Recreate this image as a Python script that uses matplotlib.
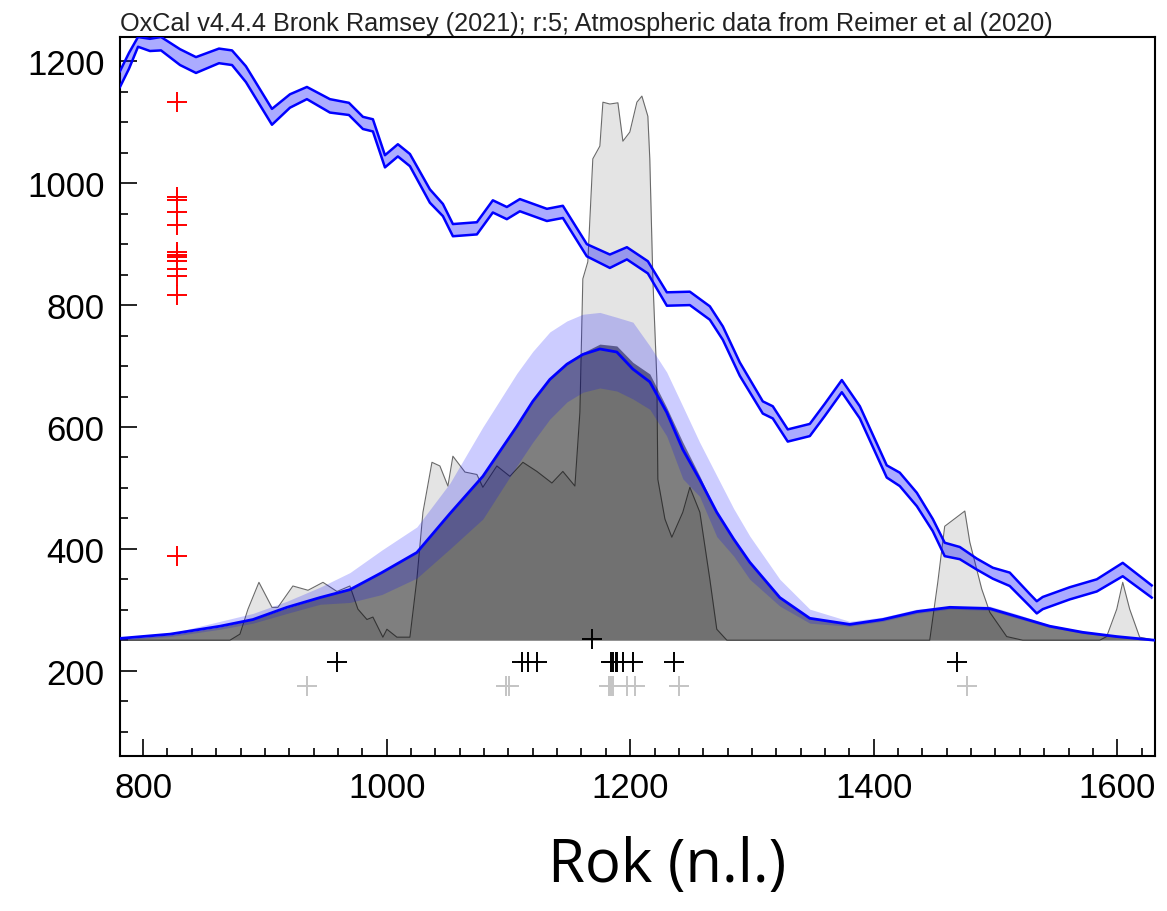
import matplotlib
matplotlib.use('Agg')
import matplotlib.pyplot as plt
from matplotlib.ticker import MultipleLocator
import numpy as np

# ---------------- data ----------------
# calibration curve (calendar year AD, radiocarbon age BP, 1 sigma)
cal_year = [781.0, 788.4, 795.8, 805.6, 814.7, 830.3, 843.4, 862.3, 873.0, 884.4,
            905.8, 920.6, 934.5, 953.4, 969.0, 980.5, 988.7, 998.6, 1009.2, 1019.1,
            1035.5, 1046.2, 1054.4, 1074.1, 1087.2, 1098.7, 1109.4, 1131.6, 1144.7, 1164.4,
            1183.3, 1197.3, 1214.5, 1230.1, 1249.0, 1265.4, 1276.1, 1290.0, 1308.9, 1317.1,
            1329.4, 1347.5, 1359.8, 1373.8, 1388.6, 1400.9, 1410.7, 1421.4, 1435.4, 1448.5,
            1458.3, 1470.7, 1484.6, 1497.8, 1511.7, 1528.1, 1533.9, 1538.8, 1561.0, 1583.2,
            1604.5, 1628.3]
cal_bp = [1171, 1201, 1232, 1227, 1229, 1207, 1194, 1209, 1206, 1179,
          1109, 1135, 1148, 1127, 1122, 1099, 1095, 1036, 1054, 1038,
          979, 956, 923, 926, 962, 951, 964, 948, 953, 890,
          872, 885, 862, 810, 811, 787, 754, 695, 632, 624,
          586, 595, 628, 667, 624, 570, 527, 514, 481, 439,
          399, 393, 375, 360, 350, 316, 304, 311, 327, 340,
          366, 330]
cal_sigma = [13, 13, 8, 10, 11, 13, 13, 12, 12, 13,
             13, 11, 10, 11, 10, 10, 10, 10, 10, 10,
             11, 10, 10, 10, 10, 10, 10, 10, 10, 10,
             11, 10, 10, 11, 11, 11, 11, 11, 10, 10,
             10, 10, 10, 10, 10, 10, 10, 11, 11, 10,
             11, 10, 9, 9, 11, 10, 10, 10, 10, 10,
             11, 10]

# summed (unmodelled) distribution, light grey, drawn on top of baseline 250
hist_year = [781.0, 871.3, 879.5, 886.1, 895.1, 905.8, 910.7, 923.0, 935.4, 947.7,
             959.2, 969.8, 976.4, 983.8, 988.7, 996.9, 1000.2, 1008.4, 1019.1, 1024.8,
             1029.8, 1037.2, 1043.7, 1050.3, 1054.4, 1064.3, 1074.1, 1079.0, 1090.5, 1101.2,
             1111.9, 1123.4, 1135.7, 1144.7, 1154.6, 1158.7, 1161.1, 1165.2, 1169.3, 1175.1,
             1177.6, 1183.3, 1189.9, 1194.0, 1199.7, 1205.5, 1209.6, 1214.5, 1216.1, 1218.6,
             1221.9, 1222.7, 1228.5, 1234.2, 1243.2, 1249.0, 1257.2, 1265.4, 1271.1, 1279.4,
             1446.0, 1452.6, 1458.3, 1474.8, 1478.9, 1488.7, 1495.3, 1509.2, 1522.4, 1585.6,
             1591.3, 1599.6, 1604.5, 1610.2, 1618.4, 1630.8]
hist_val = [250, 250, 260, 301, 345, 304, 304, 339, 332, 345,
            330, 339, 301, 284, 288, 255, 268, 255, 255, 350,
            460, 542, 536, 503, 552, 526, 522, 501, 536, 519,
            542, 527, 508, 527, 503, 624, 843, 871, 1040, 1061,
            1133, 1130, 1132, 1069, 1084, 1133, 1143, 1110, 1040, 843,
            678, 514, 449, 419, 460, 501, 460, 350, 268, 250,
            250, 345, 437, 462, 411, 334, 296, 256, 250, 250,
            256, 301, 345, 301, 255, 250]

# KDE model: distribution (dark grey), mean (blue line) and +-1 sigma band
kde_year = [781.0, 822.1, 863.1, 890.2, 918.1, 945.2, 969.8, 996.0, 1024.8, 1052.0,
            1079.0, 1106.9, 1120.0, 1134.0, 1148.0, 1161.1, 1175.1, 1189.0, 1202.2, 1216.1,
            1230.0, 1243.2, 1257.0, 1271.1, 1285.0, 1298.2, 1322.9, 1347.5, 1380.3, 1407.4,
            1435.4, 1462.5, 1495.3, 1517.5, 1544.6, 1571.6, 1599.6, 1630.8]
kde_mean = [253, 260, 273, 284, 304, 320, 333, 361, 394, 458,
            519, 601, 642, 678, 703, 719, 728, 723, 695, 674,
            624, 563, 514, 460, 416, 378, 320, 286, 276, 284,
            297, 304, 302, 289, 273, 263, 256, 250]
kde_upper = [253, 261, 281, 294, 314, 337, 361, 398, 436, 508,
             600, 688, 724, 756, 774, 785, 788, 780, 772, 733,
             690, 634, 575, 520, 466, 421, 350, 301, 281, 288,
             301, 306, 306, 293, 275, 265, 258, 251]
kde_lower = [250, 256, 268, 278, 294, 309, 312, 325, 352, 400,
             449, 536, 575, 613, 641, 657, 664, 659, 646, 629,
             585, 515, 486, 420, 388, 350, 306, 278, 273, 281,
             294, 301, 299, 286, 271, 261, 255, 250]
kde_dist = [252, 259, 272, 284, 303, 320, 333, 361, 394, 458,
            519, 601, 642, 680, 706, 722, 736, 733, 706, 687,
            632, 575, 520, 460, 416, 378, 320, 286, 276, 284,
            297, 304, 302, 289, 273, 263, 256, 250]

# radiocarbon determinations (BP) shown at left
c14_x = 828
c14_bp = [1133, 977, 972, 953, 932, 887, 883, 879, 873, 860, 848, 816, 388]

# modelled (black) and unmodelled (grey) date markers
black_years = [959.2, 1111.3, 1115.7, 1123.1, 1184.1, 1186.0, 1188.0, 1189.3, 1193.7,
               1202.4, 1235.8, 1468.2]
black_level = 214
grey_years = [934.5, 1097.9, 1100.4, 1182.5, 1184.1, 1185.8, 1197.3, 1203.8, 1239.9, 1476.4]
grey_level = 175
kde_marker = (1168.3, 252)
baseline = 250

title_text = "OxCal v4.4.4 Bronk Ramsey (2021); r:5; Atmospheric data from Reimer et al (2020)"
xlabel_text = "Rok (n.l.)"

# ---------------- plot ----------------
W, H = 1167, 912
fig = plt.figure(figsize=(W / 100, H / 100), dpi=100)
ax = fig.add_axes([120 / W, 1 - 757 / H, (1155 - 120) / W, (757 - 38) / H])
ax.set_xlim(781, 1631)
ax.set_ylim(60, 1240)

ax.fill_between(hist_year, baseline, hist_val, color='#e4e4e4', lw=0, zorder=1)
ax.plot(hist_year, hist_val, color='#6a6a6a', lw=0.8, zorder=2)
ax.fill_between(kde_year, baseline, kde_dist, color='black', alpha=0.5, lw=0, zorder=3)
ax.fill_between(kde_year, kde_lower, kde_upper, color='#0000ff', alpha=0.2, lw=0, zorder=4)
ax.plot(kde_year, kde_mean, color='#0000ff', lw=2.0, zorder=5)

cb = np.array(cal_bp, dtype=float)
cs = np.array(cal_sigma, dtype=float)
ax.fill_between(cal_year, cb - cs, cb + cs, color='#0000ff', alpha=0.33, lw=0, zorder=6)
ax.plot(cal_year, cb - cs, color='#0000ff', lw=1.8, zorder=7)
ax.plot(cal_year, cb + cs, color='#0000ff', lw=1.8, zorder=7)

ax.plot([c14_x] * len(c14_bp), c14_bp, ls='none', marker='+', ms=15, mew=1.4,
        color='#ff0000', zorder=8)
ax.plot(grey_years, [grey_level] * len(grey_years), ls='none', marker='+', ms=15,
        mew=1.4, color='#c4c4c4', zorder=8)
ax.plot(black_years, [black_level] * len(black_years), ls='none', marker='+', ms=15,
        mew=1.4, color='black', zorder=9)
ax.plot([kde_marker[0]], [kde_marker[1]], ls='none', marker='+', ms=15, mew=1.4,
        color='black', zorder=9)

ax.xaxis.set_major_locator(MultipleLocator(200))
ax.xaxis.set_minor_locator(MultipleLocator(20))
ax.yaxis.set_major_locator(MultipleLocator(200))
ax.yaxis.set_minor_locator(MultipleLocator(50))
ax.tick_params(which='both', direction='in', top=False, right=False, width=1.2, colors='black')
ax.tick_params(which='major', length=12, labelsize=25, pad=11)
ax.tick_params(which='minor', length=6)
for lab in ax.get_xticklabels() + ax.get_yticklabels():
    lab.set_family('Liberation Sans')
for sp in ax.spines.values():
    sp.set_linewidth(1.5)
    sp.set_color('black')

fig.text(120 / W, 1 - 31 / H, title_text, fontsize=18.2, family='Liberation Sans',
         color='#222222', ha='left', va='baseline')
fig.text(667 / W, 1 - 866 / H, xlabel_text, fontsize=43, family='Open Sans',
         ha='center', va='center')

fig.savefig('out.png', dpi=100)
